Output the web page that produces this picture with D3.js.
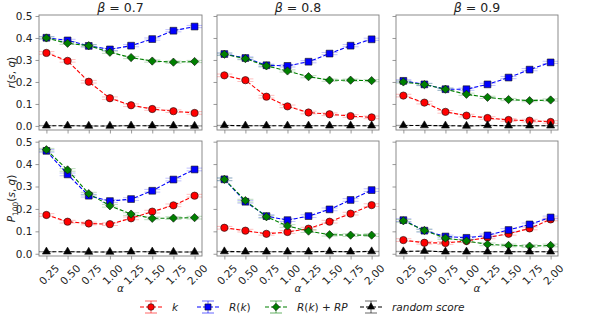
<!DOCTYPE html>
<html><head><meta charset="utf-8">
<script src="https://cdn.jsdelivr.net/npm/d3@7"></script>
<style>body{margin:0;background:#fff}svg{display:block;font-family:"DejaVu Sans",sans-serif}</style>
</head><body><svg id="c" width="600" height="320"></svg>
<script>
const alphas = [0.25, 0.5, 0.75, 1.0, 1.25, 1.5, 1.75, 2.0];
const alphaTicks = ["0.25","0.50","0.75","1.00","1.25","1.50","1.75","2.00"];
const betas = ["0.7", "0.8", "0.9"];
const yTicks = [0.0, 0.1, 0.2, 0.3, 0.4, 0.5];
const seriesNames = ["k", "R(k)", "R(k) + RP", "random score"];

// r(s,q) per beta
const r_k = [
  [0.332, 0.296, 0.201, 0.126, 0.094, 0.077, 0.067, 0.059],
  [0.230, 0.208, 0.133, 0.089, 0.061, 0.053, 0.045, 0.039],
  [0.138, 0.106, 0.064, 0.047, 0.036, 0.027, 0.024, 0.018]];
const r_Rk = [
  [0.401, 0.389, 0.364, 0.348, 0.365, 0.395, 0.433, 0.452],
  [0.327, 0.309, 0.276, 0.273, 0.292, 0.329, 0.365, 0.394],
  [0.205, 0.189, 0.167, 0.167, 0.189, 0.220, 0.256, 0.289]];
const r_RkRP = [
  [0.400, 0.376, 0.365, 0.335, 0.311, 0.295, 0.290, 0.293],
  [0.326, 0.306, 0.273, 0.250, 0.224, 0.208, 0.208, 0.206],
  [0.200, 0.188, 0.167, 0.144, 0.130, 0.120, 0.115, 0.118]];
const r_rand = [
  [0.001, 0.001, 0.000, 0.000, 0.001, 0.001, 0.001, 0.000],
  [0.002, 0.001, 0.001, 0.001, 0.001, 0.001, 0.001, 0.001],
  [0.002, 0.002, 0.001, 0.000, 0.002, 0.001, 0.001, 0.001]];
// P100(s,q) per beta
const p_k = [
  [0.173, 0.143, 0.135, 0.132, 0.158, 0.188, 0.216, 0.259],
  [0.116, 0.103, 0.089, 0.097, 0.112, 0.143, 0.179, 0.217],
  [0.061, 0.049, 0.048, 0.057, 0.073, 0.089, 0.113, 0.153]];
const p_Rk = [
  [0.459, 0.354, 0.259, 0.235, 0.244, 0.281, 0.331, 0.376],
  [0.332, 0.232, 0.168, 0.150, 0.168, 0.198, 0.240, 0.284],
  [0.150, 0.103, 0.077, 0.071, 0.082, 0.106, 0.131, 0.162]];
const p_RkRP = [
  [0.464, 0.374, 0.268, 0.214, 0.177, 0.158, 0.159, 0.161],
  [0.332, 0.237, 0.165, 0.124, 0.101, 0.085, 0.083, 0.083],
  [0.147, 0.104, 0.070, 0.057, 0.042, 0.037, 0.034, 0.037]];
const p_rand = [
  [0.009, 0.009, 0.008, 0.008, 0.009, 0.009, 0.008, 0.008],
  [0.010, 0.009, 0.009, 0.009, 0.009, 0.010, 0.009, 0.010],
  [0.010, 0.012, 0.009, 0.009, 0.009, 0.009, 0.009, 0.009]];
// half error bar per series (k, R(k), R(k)+RP, random)
const errTop = [0.006, 0.005, 0.005, 0.001];
const errBottom = [0.006, 0.006, 0.006, 0.001];

const colors = ["#ff0000", "#0000ff", "#008000", "#000000"];
const symbols = [d3.symbolCircle, d3.symbolSquare, d3.symbolSquare, d3.symbolTriangle];
const symSizes = [42, 46, 34, 28];
const symRot = [0, 0, 45, 0];

const svg = d3.select("#c");
const cols = [[39, 202], [217, 379], [396, 558]];
const rows = [[15, 130], [141, 256]];
const yDomains = [[-0.0185, 0.5045], [-0.010, 0.503]];
const frameCol = "#7f7f7f", textCol = "#222";

const rowData = [[r_k, r_Rk, r_RkRP, r_rand], [p_k, p_Rk, p_RkRP, p_rand]];
const rowErr = [errTop, errBottom];

function marker(sel, si, px, py, scale) {
  sel.append("path").attr("d", d3.symbol(symbols[si], symSizes[si] * scale)())
    .attr("transform", `translate(${px},${py}) rotate(${symRot[si]})`)
    .attr("fill", colors[si]).attr("stroke", "#111").attr("stroke-width", 0.6);
}

rows.forEach((ry, ri) => {
  cols.forEach((cx, ci) => {
    const x = d3.scaleLinear().domain([0.1625, 2.0875]).range(cx);
    const y = d3.scaleLinear().domain(yDomains[ri]).range([ry[1], ry[0]]);
    const g = svg.append("g");
    const ya = g.append("g").attr("transform", `translate(${cx[0]},0)`)
      .call(d3.axisLeft(y).tickValues(yTicks).tickSize(3.5).tickPadding(3)
        .tickFormat(ci === 0 ? d3.format(".1f") : () => ""));
    const xa = g.append("g").attr("transform", `translate(0,${ry[1]})`)
      .call(d3.axisBottom(x).tickValues(alphas).tickSize(3.5).tickPadding(2)
        .tickFormat(ri === 1 ? (d, i) => alphaTicks[i] : () => ""));
    [ya, xa].forEach(a => {
      a.select(".domain").remove();
      a.selectAll(".tick line").attr("stroke", frameCol).attr("stroke-width", 0.8);
      a.selectAll("text").attr("fill", textCol).attr("font-size", 10.5)
        .attr("font-family", "DejaVu Sans");
    });
    if (ri === 1) {
      xa.selectAll("text").attr("text-anchor", "end")
        .attr("transform", "translate(4,4) rotate(-45)").attr("dy", "0.7em");
    }
    g.append("rect").attr("x", cx[0]).attr("y", ry[0])
      .attr("width", cx[1] - cx[0]).attr("height", ry[1] - ry[0])
      .attr("fill", "none").attr("stroke", frameCol).attr("stroke-width", 0.9);

    const clip = "clip" + ri + ci;
    g.append("clipPath").attr("id", clip).append("rect")
      .attr("x", cx[0]).attr("y", ry[0]).attr("width", cx[1] - cx[0]).attr("height", ry[1] - ry[0]);
    const pg = g.append("g").attr("clip-path", `url(#${clip})`);

    rowData[ri].forEach((arr, si) => {
      const vals = arr[ci];
      const e = rowErr[ri][si];
      const line = d3.line().x((d, i) => x(alphas[i])).y(d => y(d));
      vals.forEach((v, i) => {
        const px = x(alphas[i]);
        pg.append("line").attr("x1", px).attr("x2", px).attr("y1", y(v - e)).attr("y2", y(v + e))
          .attr("stroke", colors[si]).attr("stroke-opacity", 0.3).attr("stroke-width", 1);
        [v - e, v + e].forEach(c => pg.append("line").attr("x1", px - 8).attr("x2", px + 8)
          .attr("y1", y(c)).attr("y2", y(c)).attr("stroke", colors[si])
          .attr("stroke-opacity", 0.25).attr("stroke-width", 1));
      });
      pg.append("path").attr("d", line(vals)).attr("fill", "none")
        .attr("stroke", colors[si]).attr("stroke-width", 1.1).attr("stroke-dasharray", "4,2");
      vals.forEach((v, i) => marker(pg, si, x(alphas[i]), y(v), 1));
    });

    if (ri === 0) {
      const t = g.append("text").attr("x", (cx[0] + cx[1]) / 2).attr("y", 12)
        .attr("text-anchor", "middle").attr("font-size", 12.5).attr("fill", textCol);
      t.append("tspan").attr("font-style", "italic").text("β");
      t.append("tspan").text(" = " + betas[ci]);
    } else {
      g.append("text").attr("x", (cx[0] + cx[1]) / 2).attr("y", 292)
        .attr("text-anchor", "middle").attr("font-size", 10.5).attr("font-style", "italic")
        .attr("fill", textCol).text("α");
    }
  });
});

const yl1 = svg.append("text").attr("transform", `translate(15,${(rows[0][0] + rows[0][1]) / 2}) rotate(-90)`)
  .attr("text-anchor", "middle").attr("font-size", 10.5).attr("fill", textCol);
yl1.append("tspan").attr("font-style", "italic").text("r");
yl1.append("tspan").text("(");
yl1.append("tspan").attr("font-style", "italic").text("s");
yl1.append("tspan").text(", ");
yl1.append("tspan").attr("font-style", "italic").text("q");
yl1.append("tspan").text(")");
const yl2 = svg.append("text").attr("transform", `translate(15,${(rows[1][0] + rows[1][1]) / 2}) rotate(-90)`)
  .attr("text-anchor", "middle").attr("font-size", 10.5).attr("fill", textCol);
yl2.append("tspan").attr("font-style", "italic").text("P");
yl2.append("tspan").attr("font-size", 7.5).attr("dy", 2.5).text("100");
yl2.append("tspan").attr("dy", -2.5).text("(");
yl2.append("tspan").attr("font-style", "italic").text("s");
yl2.append("tspan").text(", ");
yl2.append("tspan").attr("font-style", "italic").text("q");
yl2.append("tspan").text(")");

const legX = [140, 197, 265, 360];
const ly = 307;
seriesNames.forEach((name, si) => {
  const lg = svg.append("g");
  const x0 = legX[si], xc = x0 + 11;
  lg.append("line").attr("x1", x0).attr("x2", x0 + 22).attr("y1", ly).attr("y2", ly)
    .attr("stroke", colors[si]).attr("stroke-width", 1.1).attr("stroke-dasharray", "4,2");
  lg.append("line").attr("x1", xc).attr("x2", xc).attr("y1", ly - 6).attr("y2", ly + 6)
    .attr("stroke", colors[si]).attr("stroke-opacity", 0.6);
  [ly - 6, ly + 6].forEach(c => lg.append("line").attr("x1", xc - 6).attr("x2", xc + 6)
    .attr("y1", c).attr("y2", c).attr("stroke", colors[si]).attr("stroke-opacity", 0.6));
  marker(lg, si, xc, ly, 0.8);
  const t = lg.append("text").attr("x", x0 + 32).attr("y", ly + 4).attr("font-size", 10.5)
    .attr("fill", textCol);
  if (si === 0) t.append("tspan").attr("font-style", "italic").text("k");
  else if (si === 1) { t.append("tspan").attr("font-style", "italic").text("R"); t.append("tspan").text("("); t.append("tspan").attr("font-style", "italic").text("k"); t.append("tspan").text(")"); }
  else if (si === 2) { t.append("tspan").attr("font-style", "italic").text("R"); t.append("tspan").text("("); t.append("tspan").attr("font-style", "italic").text("k"); t.append("tspan").text(") + "); t.append("tspan").attr("font-style", "italic").text("RP"); }
  else t.append("tspan").attr("font-style", "italic").text("random score");
});
</script></body></html>
